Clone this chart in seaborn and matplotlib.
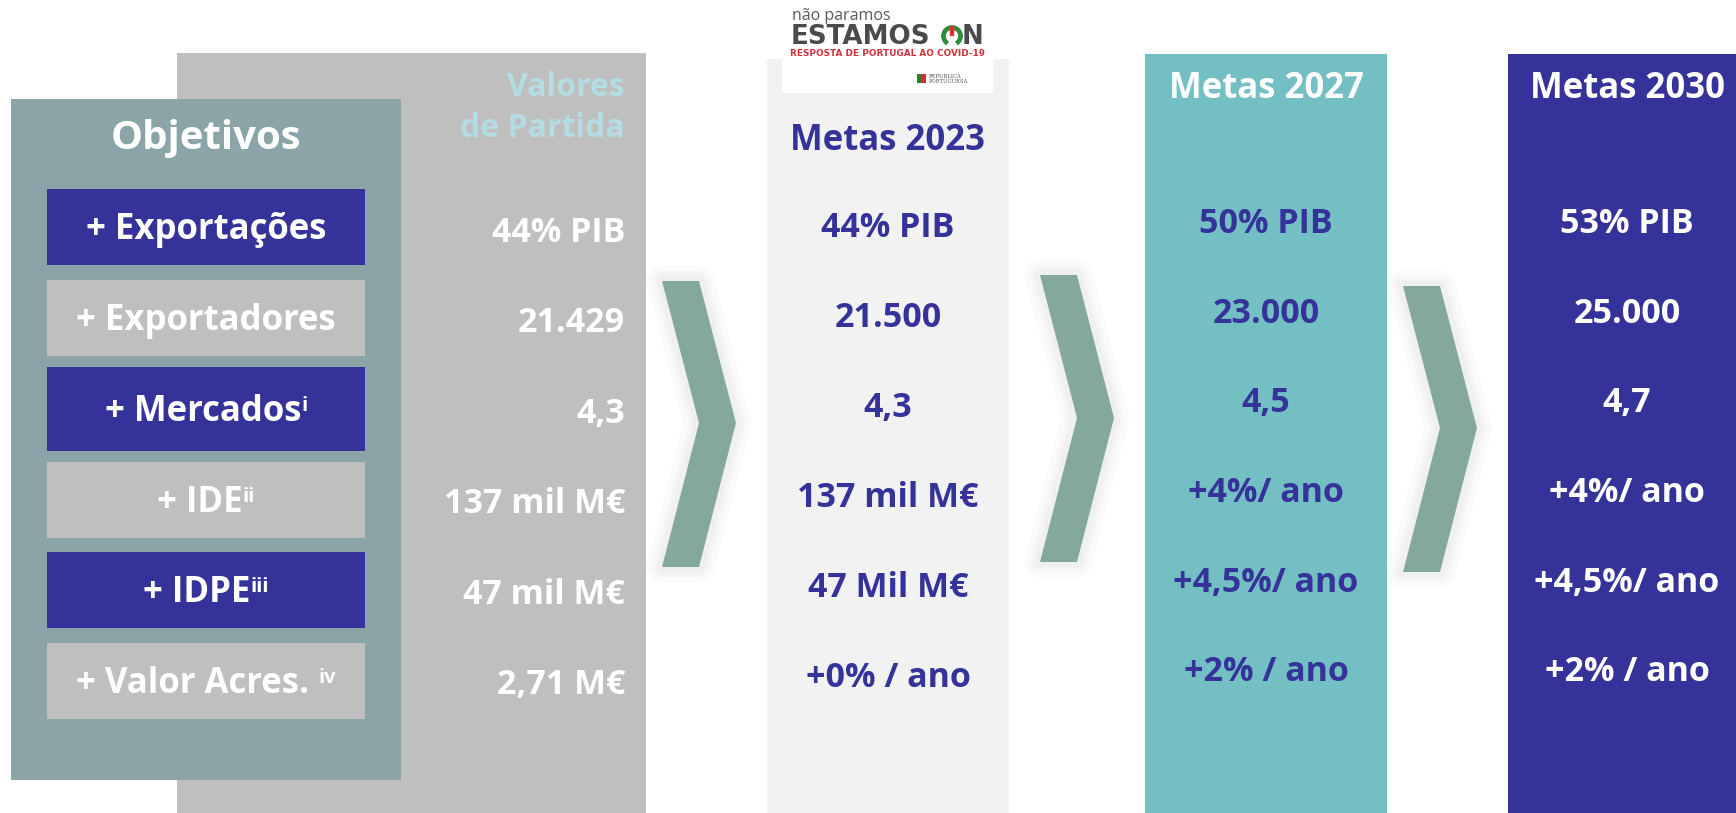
import matplotlib
matplotlib.use('Agg')
import matplotlib.pyplot as plt
import seaborn as sns
from matplotlib.patches import Rectangle, Polygon, Arc

# conteúdo do quadro
objetivos = ['+ Exportações', '+ Exportadores', '+ Mercados', '+ IDE', '+ IDPE', '+ Valor Acres. ']
sobrescritos = ['', '', 'i', 'ii', 'iii', 'iv']
valores_partida = ['44% PIB', '21.429', '4,3', '137 mil M€', '47 mil M€', '2,71 M€']
metas_2023 = ['44% PIB', '21.500', '4,3', '137 mil M€', '47 Mil M€', '+0% / ano']
metas_2027 = ['50% PIB', '23.000', '4,5', '+4%/ ano', '+4,5%/ ano', '+2% / ano']
metas_2030 = ['53% PIB', '25.000', '4,7', '+4%/ ano', '+4,5%/ ano', '+2% / ano']

sns.set_theme(style='white')
plt.rcParams['font.family'] = ['Open Sans', 'DejaVu Sans']

AZUL = '#353399'
CINZA = '#bfbfbf'
PAINEL = '#8aa4a7'
TEAL = '#74bfc4'
CLARO = '#f2f2f2'
SETA = '#84a99b'

fig = plt.figure(figsize=(17.36, 8.13), dpi=100)
ax = fig.add_axes([0, 0, 1, 1])
ax.set_xlim(0, 1736)
ax.set_ylim(813, 0)
ax.axis('off')


def caixa(x0, y0, x1, y1, cor, z=1):
    ax.add_patch(Rectangle((x0, y0), x1 - x0, y1 - y0, facecolor=cor,
                           edgecolor='none', zorder=z))


def texto(x, yc, s, size, cor, ha='center', **kw):
    # yc = centro das maiúsculas
    em = size / 0.72
    return ax.text(x, yc + 0.357 * em, s, fontsize=size, color=cor, ha=ha,
                   va='baseline', fontweight='bold', zorder=5, **kw)


# painéis de fundo
caixa(177, 53, 646, 813, CINZA)
caixa(11, 99, 401, 780, PAINEL, z=2)
caixa(767, 59, 1009, 813, CLARO)
caixa(1145, 54, 1387, 813, TEAL)
caixa(1508, 54, 1736, 813, AZUL)

# objetivos
renderer = fig.canvas.get_renderer()
limites = [(189, 265), (280, 356), (367, 451), (462, 538), (552, 628), (643, 719)]
texto(206, 135, 'Objetivos', 29, 'white')
for i, (nome, sup) in enumerate(zip(objetivos, sobrescritos)):
    y0, y1 = limites[i]
    caixa(47, y0, 365, y1, AZUL if i % 2 == 0 else CINZA, z=3)
    t = texto(206, (y0 + y1) / 2, nome, 25, 'white')
    if sup:
        s = ax.annotate(sup, xy=(1, 0.95), xycoords=t, xytext=(0, 0),
                        textcoords='offset points', ha='left', va='top',
                        fontsize=14.5, fontweight='bold', color='white', zorder=6)
        w = s.get_window_extent(renderer).width
        t.set_x(206 - w / 2)

# valores de partida
texto(625, 85, 'Valores', 23, '#b3dde2', ha='right')
texto(625, 125.5, 'de Partida', 23, '#b3dde2', ha='right')
linhas_vp = [230, 320, 411, 501, 592, 682]
for v, y in zip(valores_partida, linhas_vp):
    texto(625, y, v, 24.5, 'white', ha='right')

# metas
texto(888, 138, 'Metas 2023', 25, AZUL)
for k, v in enumerate(metas_2023):
    texto(888, 225 + 90 * k, v, 24.5, AZUL)

texto(1266, 86, 'Metas 2027', 25, 'white')
for k, v in enumerate(metas_2027):
    texto(1266, 221 + 89.6 * k, v, 24.5, AZUL)

texto(1627, 86, 'Metas 2030', 25, 'white')
for k, v in enumerate(metas_2030):
    texto(1627, 221 + 89.6 * k, v, 24.5, 'white')

# setas
for x0, yt, ym, yb in [(662, 281, 423, 567), (1040, 275, 418, 562), (1403, 286, 428, 572)]:
    pts = [(x0, yt), (x0 + 37, yt), (x0 + 74, ym), (x0 + 37, yb), (x0, yb), (x0 + 37, ym)]
    for lw in [22, 14, 8]:
        ax.add_patch(Polygon(pts, closed=True, facecolor='none', edgecolor='black',
                             alpha=0.018, lw=lw, joinstyle='round', zorder=3))
    ax.add_patch(Polygon(pts, closed=True, facecolor=SETA, edgecolor='none', zorder=4))

# logótipo
caixa(782, 0, 993, 93, 'white', z=3)
ax.text(792, 20, 'não paramos', fontsize=11.5, color='#5a5a5a', ha='left',
        va='baseline', fontweight='normal', zorder=6)
ax.text(791, 44.5, 'ESTAMOS', fontsize=18.8, color='#4a4a4a', ha='left',
        va='baseline', fontweight='bold', family='DejaVu Sans', zorder=6)
ax.add_patch(Arc((952, 36), 17, 17, theta1=-240, theta2=60, color='#2e8b3a',
                 lw=3.4, zorder=6))
ax.plot([952, 952], [26, 36], color='#e03030', lw=3.2, solid_capstyle='butt', zorder=7)
ax.text(962, 44.5, 'N', fontsize=18.8, color='#4a4a4a', ha='left',
        va='baseline', fontweight='bold', family='DejaVu Sans', zorder=6)
ax.text(887, 55.5, 'RESPOSTA DE PORTUGAL AO COVID-19', fontsize=6.4, color='#d42f3c',
        ha='center', va='baseline', fontweight='bold', family='DejaVu Sans', zorder=6)
caixa(917, 74, 921, 83, '#2e7d32', z=6)
caixa(921, 74, 926, 83, '#d32f2f', z=6)
ax.text(929, 78, 'REPÚBLICA', fontsize=3.8, color='#555555', ha='left',
        va='baseline', family='DejaVu Serif', zorder=6)
ax.text(929, 83, 'PORTUGUESA', fontsize=3.8, color='#555555', ha='left',
        va='baseline', family='DejaVu Serif', zorder=6)

fig.savefig('out.png', dpi=100)
